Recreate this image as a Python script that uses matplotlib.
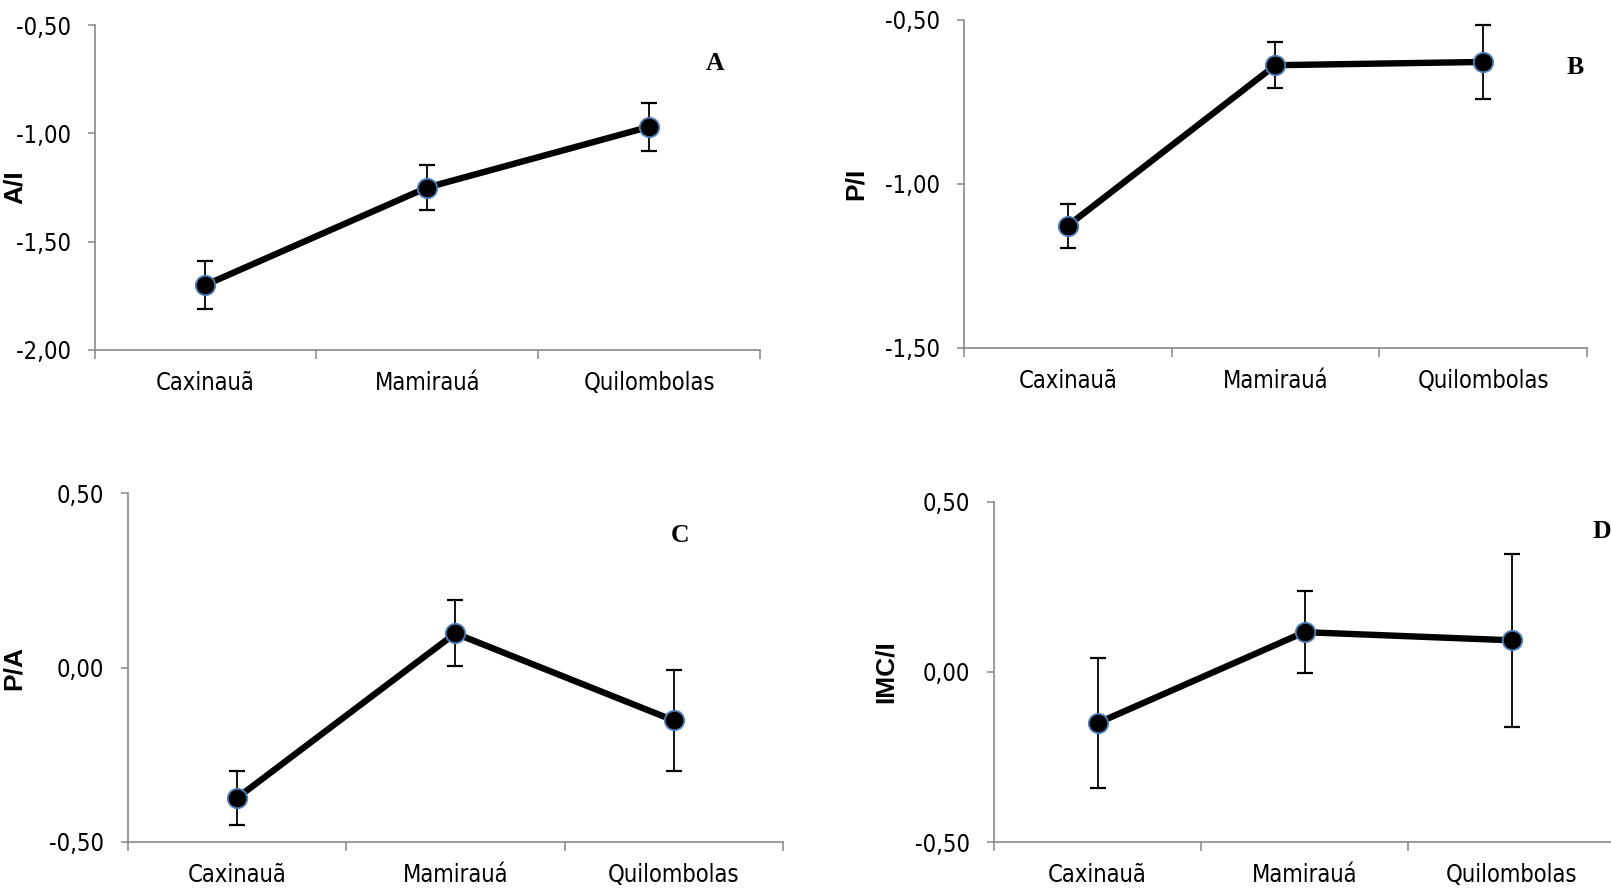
import matplotlib
matplotlib.use("Agg")
import matplotlib.pyplot as plt
from matplotlib.font_manager import FontProperties

# data
groups = ["Caxinauã", "Mamirauá", "Quilombolas"]

ai_mean = [-1.70, -1.25, -0.97]
ai_err = [0.11, 0.105, 0.11]

pi_mean = [-1.128, -0.638, -0.628]
pi_err = [0.068, 0.07, 0.112]

pa_mean = [-0.375, 0.098, -0.152]
pa_err = [0.078, 0.095, 0.146]

imc_mean = [-0.150, 0.117, 0.093]
imc_err = [0.192, 0.12, 0.254]

ticks_a = [-2.0, -1.5, -1.0, -0.5]
ticks_b = [-1.5, -1.0, -0.5]
ticks_cd = [-0.5, 0.0, 0.5]

W, H = 1611, 891
fig = plt.figure(figsize=(W / 100, H / 100), dpi=100)

# narrow sans for tick text
tick_font = FontProperties(family="DejaVu Sans", stretch="condensed", size=17)
gray = "#878787"


def fmt(v):
    return f"{v:.2f}".replace(".", ",")


def panel(box, mean, err, yticks, ylabel, label_x_px):
    left, top, right, bottom = box
    ax = fig.add_axes([left / W, 1 - bottom / H, (right - left) / W, (bottom - top) / H])
    x = list(range(len(groups)))
    ax.errorbar(x, mean, yerr=err, fmt="none", ecolor="black",
                elinewidth=1.3, capsize=5.5, capthick=1.6, zorder=2)
    ax.plot(x, mean, color="black", lw=4.6, zorder=3, solid_capstyle="round")
    ax.plot(x, mean, "o", ms=14, mfc="black", mec="#4F81BD", mew=1.3, zorder=4)

    ax.set_xlim(-0.5, len(groups) - 0.5)
    ax.set_ylim(yticks[0], yticks[-1])
    ax.set_yticks(yticks)
    ax.set_yticklabels([fmt(v) for v in yticks], fontproperties=tick_font)
    # boundary ticks between categories, names on hidden minor ticks
    ax.set_xticks([i - 0.5 for i in range(len(groups) + 1)])
    ax.set_xticklabels([])
    ax.set_xticks(x, minor=True)
    ax.set_xticklabels(groups, minor=True, fontproperties=tick_font)
    ax.tick_params(axis="x", which="major", direction="out", length=6.5,
                   width=1.1, color=gray)
    ax.tick_params(axis="x", which="minor", length=0, pad=15)
    ax.tick_params(axis="y", direction="out", length=5, width=1.1,
                   color=gray, pad=12)

    for s in ["top", "right"]:
        ax.spines[s].set_visible(False)
    for s in ["left", "bottom"]:
        ax.spines[s].set_color(gray)
        ax.spines[s].set_linewidth(1.2)

    ax.set_ylabel(ylabel, fontsize=19, fontweight="bold",
                  family=["Liberation Sans", "DejaVu Sans"])
    ax.yaxis.set_label_coords((label_x_px - left) / (right - left), 0.5)
    return ax


panel((94.5, 25, 760, 350), ai_mean, ai_err, ticks_a, "A/I", 27)
panel((963.8, 20, 1587, 347.7), pi_mean, pi_err, ticks_b, "P/I", 868)
panel((127.5, 493.3, 783, 841.7), pa_mean, pa_err, ticks_cd, "P/A", 25.5)
panel((994, 501.7, 1615, 842.3), imc_mean, imc_err, ticks_cd, "IMC/I", 898)

serif = dict(fontsize=18.5, fontweight="bold", family="Liberation Serif", va="center")
fig.text(715 / W, 1 - 63 / H, "A", ha="center", **serif)
fig.text(1575 / W, 1 - 67 / H, "B", ha="center", **serif)
fig.text(680 / W, 1 - 535 / H, "C", ha="center", **serif)
fig.text(1593 / W, 1 - 532 / H, "D", ha="left", **serif)

fig.savefig("out.png", dpi=100)
